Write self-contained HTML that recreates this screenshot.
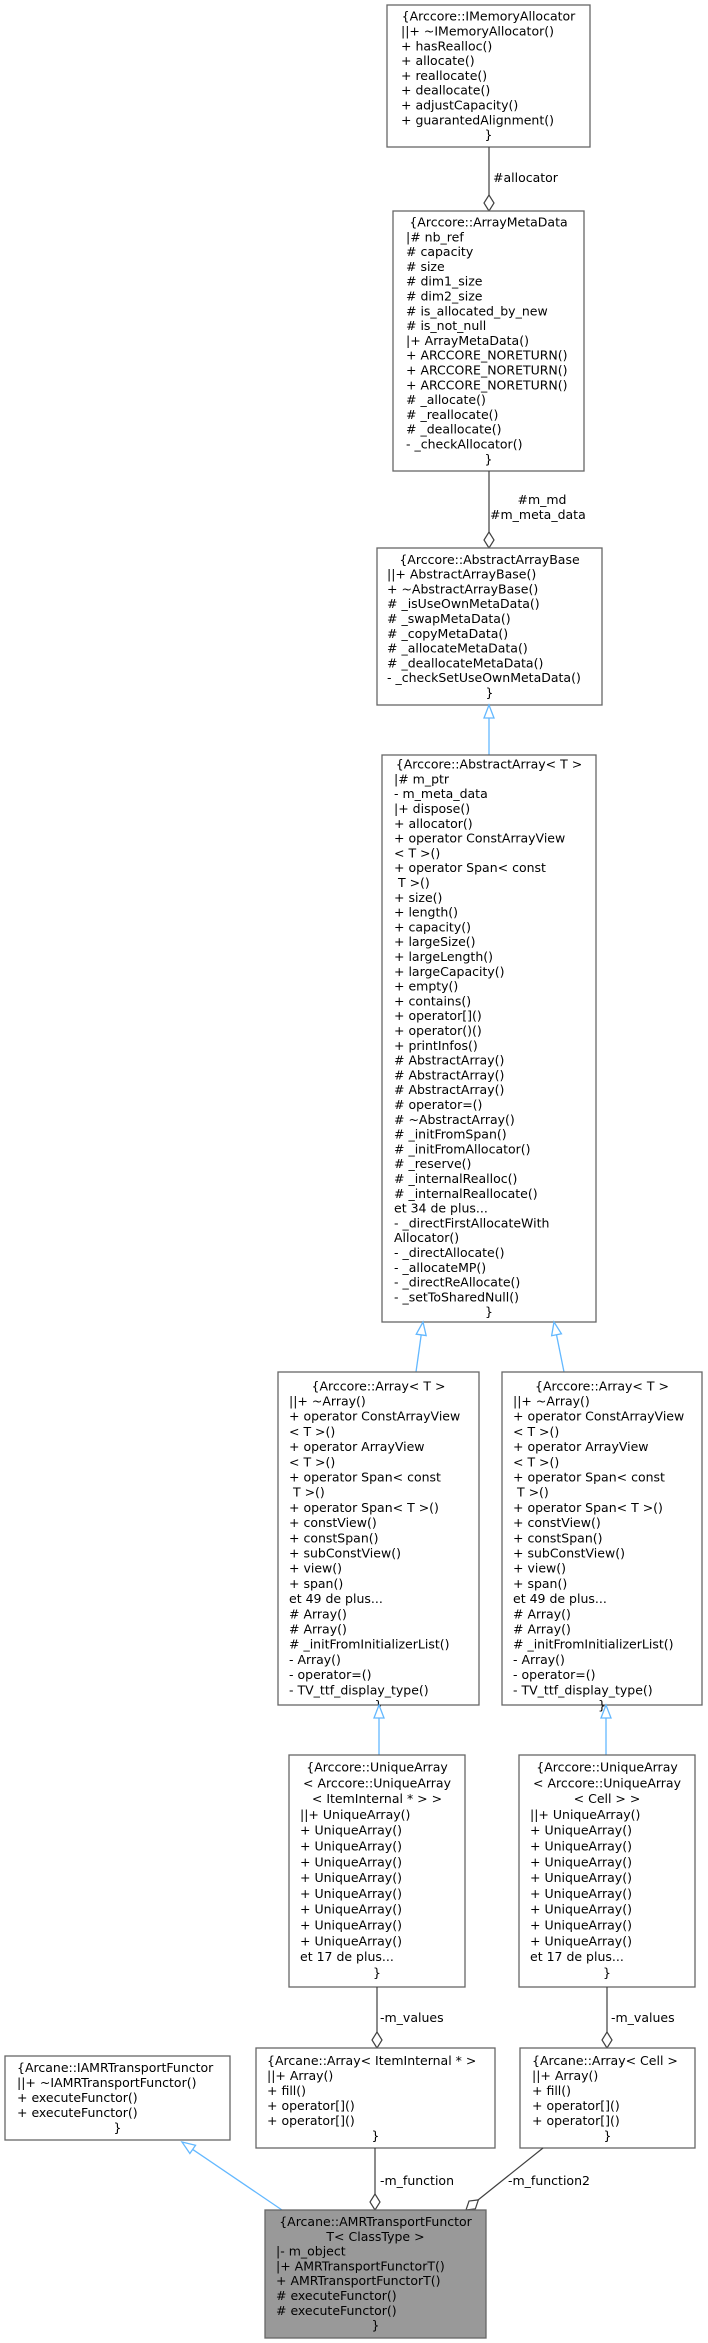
<!DOCTYPE html>
<html><head><meta charset="utf-8"><style>
html,body{margin:0;padding:0;background:#fff;}
svg{display:block;}
text{font-family:"DejaVu Sans","Liberation Sans",sans-serif;font-size:12.5px;fill:#000;}
.b{fill:#fff;stroke:#666;stroke-width:1.3;}
.e{stroke:#404040;stroke-width:1.2;fill:none;}
.d{fill:#fff;stroke:#404040;stroke-width:1.2;}
.i{stroke:#63b8ff;stroke-width:1.3;fill:none;}
.t{fill:#fff;stroke:#63b8ff;stroke-width:1.3;}
.c{text-anchor:middle;}
</style></head><body>
<svg width="708" height="2343" viewBox="0 0 708 2343" xmlns="http://www.w3.org/2000/svg">
<!-- B1 -->
<rect class="b" x="387" y="5" width="203" height="142"/>
<text y="20.7"><tspan class="c" x="488.5">{Arccore::IMemoryAllocator</tspan><tspan x="401" dy="14.8">||+ ~IMemoryAllocator()</tspan><tspan x="401" dy="14.8">+ hasRealloc()</tspan><tspan x="401" dy="14.8">+ allocate()</tspan><tspan x="401" dy="14.8">+ reallocate()</tspan><tspan x="401" dy="14.8">+ deallocate()</tspan><tspan x="401" dy="14.8">+ adjustCapacity()</tspan><tspan x="401" dy="14.8">+ guarantedAlignment()</tspan><tspan class="c" x="488.5" dy="14.8">}</tspan></text>
<line class="e" x1="489" y1="147" x2="489" y2="195"/>
<polygon class="d" points="489,211 484,203 489,195 494,203"/>
<text x="493" y="182">#allocator</text>
<!-- B2 -->
<rect class="b" x="393" y="211" width="191" height="260"/>
<text y="226.5"><tspan class="c" x="488.5">{Arccore::ArrayMetaData</tspan><tspan x="406" dy="14.8">|# nb_ref</tspan><tspan x="406" dy="14.8"># capacity</tspan><tspan x="406" dy="14.8"># size</tspan><tspan x="406" dy="14.8"># dim1_size</tspan><tspan x="406" dy="14.8"># dim2_size</tspan><tspan x="406" dy="14.8"># is_allocated_by_new</tspan><tspan x="406" dy="14.8"># is_not_null</tspan><tspan x="406" dy="14.8">|+ ArrayMetaData()</tspan><tspan x="406" dy="14.8">+ ARCCORE_NORETURN()</tspan><tspan x="406" dy="14.8">+ ARCCORE_NORETURN()</tspan><tspan x="406" dy="14.8">+ ARCCORE_NORETURN()</tspan><tspan x="406" dy="14.8"># _allocate()</tspan><tspan x="406" dy="14.8"># _reallocate()</tspan><tspan x="406" dy="14.8"># _deallocate()</tspan><tspan x="406" dy="14.8">- _checkAllocator()</tspan><tspan class="c" x="488.5" dy="14.8">}</tspan></text>
<line class="e" x1="489" y1="471" x2="489" y2="532"/>
<polygon class="d" points="489,548 484,540 489,532 494,540"/>
<text class="c" x="542" y="504">#m_md</text>
<text x="490" y="519">#m_meta_data</text>
<!-- B3 -->
<rect class="b" x="377" y="548" width="225" height="157"/>
<text y="563.8"><tspan class="c" x="489.5">{Arccore::AbstractArrayBase</tspan><tspan x="387" dy="14.8">||+ AbstractArrayBase()</tspan><tspan x="387" dy="14.8">+ ~AbstractArrayBase()</tspan><tspan x="387" dy="14.8"># _isUseOwnMetaData()</tspan><tspan x="387" dy="14.8"># _swapMetaData()</tspan><tspan x="387" dy="14.8"># _copyMetaData()</tspan><tspan x="387" dy="14.8"># _allocateMetaData()</tspan><tspan x="387" dy="14.8"># _deallocateMetaData()</tspan><tspan x="387" dy="14.8">- _checkSetUseOwnMetaData()</tspan><tspan class="c" x="489.5" dy="14.8">}</tspan></text>
<line class="i" x1="489" y1="755" x2="489" y2="718"/>
<polygon class="t" points="489,705 484,718 494,718"/>
<!-- B4 -->
<rect class="b" x="382" y="755" width="214" height="567"/>
<text y="768.6"><tspan class="c" x="489">{Arccore::AbstractArray&lt; T &gt;</tspan><tspan x="394" dy="14.8">|# m_ptr</tspan><tspan x="394" dy="14.8">- m_meta_data</tspan><tspan x="394" dy="14.8">|+ dispose()</tspan><tspan x="394" dy="14.8">+ allocator()</tspan><tspan x="394" dy="14.8">+ operator ConstArrayView</tspan><tspan x="394" dy="14.8">&lt; T &gt;()</tspan><tspan x="394" dy="14.8">+ operator Span&lt; const</tspan><tspan x="394" dy="14.8"> T &gt;()</tspan><tspan x="394" dy="14.8">+ size()</tspan><tspan x="394" dy="14.8">+ length()</tspan><tspan x="394" dy="14.8">+ capacity()</tspan><tspan x="394" dy="14.8">+ largeSize()</tspan><tspan x="394" dy="14.8">+ largeLength()</tspan><tspan x="394" dy="14.8">+ largeCapacity()</tspan><tspan x="394" dy="14.8">+ empty()</tspan><tspan x="394" dy="14.8">+ contains()</tspan><tspan x="394" dy="14.8">+ operator[]()</tspan><tspan x="394" dy="14.8">+ operator()()</tspan><tspan x="394" dy="14.8">+ printInfos()</tspan><tspan x="394" dy="14.8"># AbstractArray()</tspan><tspan x="394" dy="14.8"># AbstractArray()</tspan><tspan x="394" dy="14.8"># AbstractArray()</tspan><tspan x="394" dy="14.8"># operator=()</tspan><tspan x="394" dy="14.8"># ~AbstractArray()</tspan><tspan x="394" dy="14.8"># _initFromSpan()</tspan><tspan x="394" dy="14.8"># _initFromAllocator()</tspan><tspan x="394" dy="14.8"># _reserve()</tspan><tspan x="394" dy="14.8"># _internalRealloc()</tspan><tspan x="394" dy="14.8"># _internalReallocate()</tspan><tspan x="394" dy="14.8">et 34 de plus...</tspan><tspan x="394" dy="14.8">- _directFirstAllocateWith</tspan><tspan x="394" dy="14.8">Allocator()</tspan><tspan x="394" dy="14.8">- _directAllocate()</tspan><tspan x="394" dy="14.8">- _allocateMP()</tspan><tspan x="394" dy="14.8">- _directReAllocate()</tspan><tspan x="394" dy="14.8">- _setToSharedNull()</tspan><tspan class="c" x="489" dy="14.8">}</tspan></text>
<!-- B5 / B6 inheritance -->
<line class="i" x1="416" y1="1372" x2="421.2" y2="1334.9"/>
<polygon class="t" points="0,0 -5,13 5,13" transform="translate(423,1322) rotate(8)"/>
<line class="i" x1="564" y1="1372" x2="556.5" y2="1334.7"/>
<polygon class="t" points="0,0 -5,13 5,13" transform="translate(554,1322) rotate(-11.3)"/>
<rect class="b" x="278" y="1372" width="201" height="333"/>
<text y="1390.3"><tspan class="c" x="378.5">{Arccore::Array&lt; T &gt;</tspan><tspan x="289" dy="15.2">||+ ~Array()</tspan><tspan x="289" dy="15.2">+ operator ConstArrayView</tspan><tspan x="289" dy="15.2">&lt; T &gt;()</tspan><tspan x="289" dy="15.2">+ operator ArrayView</tspan><tspan x="289" dy="15.2">&lt; T &gt;()</tspan><tspan x="289" dy="15.2">+ operator Span&lt; const</tspan><tspan x="289" dy="15.2"> T &gt;()</tspan><tspan x="289" dy="15.2">+ operator Span&lt; T &gt;()</tspan><tspan x="289" dy="15.2">+ constView()</tspan><tspan x="289" dy="15.2">+ constSpan()</tspan><tspan x="289" dy="15.2">+ subConstView()</tspan><tspan x="289" dy="15.2">+ view()</tspan><tspan x="289" dy="15.2">+ span()</tspan><tspan x="289" dy="15.2">et 49 de plus...</tspan><tspan x="289" dy="15.2"># Array()</tspan><tspan x="289" dy="15.2"># Array()</tspan><tspan x="289" dy="15.2"># _initFromInitializerList()</tspan><tspan x="289" dy="15.2">- Array()</tspan><tspan x="289" dy="15.2">- operator=()</tspan><tspan x="289" dy="15.2">- TV_ttf_display_type()</tspan><tspan class="c" x="378.5" dy="15.2">}</tspan></text>
<rect class="b" x="502" y="1372" width="200" height="333"/>
<text y="1390.3"><tspan class="c" x="602">{Arccore::Array&lt; T &gt;</tspan><tspan x="513" dy="15.2">||+ ~Array()</tspan><tspan x="513" dy="15.2">+ operator ConstArrayView</tspan><tspan x="513" dy="15.2">&lt; T &gt;()</tspan><tspan x="513" dy="15.2">+ operator ArrayView</tspan><tspan x="513" dy="15.2">&lt; T &gt;()</tspan><tspan x="513" dy="15.2">+ operator Span&lt; const</tspan><tspan x="513" dy="15.2"> T &gt;()</tspan><tspan x="513" dy="15.2">+ operator Span&lt; T &gt;()</tspan><tspan x="513" dy="15.2">+ constView()</tspan><tspan x="513" dy="15.2">+ constSpan()</tspan><tspan x="513" dy="15.2">+ subConstView()</tspan><tspan x="513" dy="15.2">+ view()</tspan><tspan x="513" dy="15.2">+ span()</tspan><tspan x="513" dy="15.2">et 49 de plus...</tspan><tspan x="513" dy="15.2"># Array()</tspan><tspan x="513" dy="15.2"># Array()</tspan><tspan x="513" dy="15.2"># _initFromInitializerList()</tspan><tspan x="513" dy="15.2">- Array()</tspan><tspan x="513" dy="15.2">- operator=()</tspan><tspan x="513" dy="15.2">- TV_ttf_display_type()</tspan><tspan class="c" x="602" dy="15.2">}</tspan></text>
<!-- UniqueArray -->
<line class="i" x1="379" y1="1755" x2="379" y2="1718"/>
<polygon class="t" points="379,1705 374,1718 384,1718"/>
<line class="i" x1="606" y1="1755" x2="606" y2="1718"/>
<polygon class="t" points="606,1705 601,1718 611,1718"/>
<rect class="b" x="289" y="1755" width="176" height="232"/>
<text y="1771.5"><tspan class="c" x="377">{Arccore::UniqueArray</tspan><tspan class="c" x="377" dy="15.8">&lt; Arccore::UniqueArray</tspan><tspan class="c" x="377" dy="15.8">&lt; ItemInternal * &gt; &gt;</tspan><tspan x="300" dy="15.8">||+ UniqueArray()</tspan><tspan x="300" dy="15.8">+ UniqueArray()</tspan><tspan x="300" dy="15.8">+ UniqueArray()</tspan><tspan x="300" dy="15.8">+ UniqueArray()</tspan><tspan x="300" dy="15.8">+ UniqueArray()</tspan><tspan x="300" dy="15.8">+ UniqueArray()</tspan><tspan x="300" dy="15.8">+ UniqueArray()</tspan><tspan x="300" dy="15.8">+ UniqueArray()</tspan><tspan x="300" dy="15.8">+ UniqueArray()</tspan><tspan x="300" dy="15.8">et 17 de plus...</tspan><tspan class="c" x="377" dy="15.8">}</tspan></text>
<rect class="b" x="519" y="1755" width="176" height="232"/>
<text y="1771.5"><tspan class="c" x="607">{Arccore::UniqueArray</tspan><tspan class="c" x="607" dy="15.8">&lt; Arccore::UniqueArray</tspan><tspan class="c" x="607" dy="15.8">&lt; Cell &gt; &gt;</tspan><tspan x="530" dy="15.8">||+ UniqueArray()</tspan><tspan x="530" dy="15.8">+ UniqueArray()</tspan><tspan x="530" dy="15.8">+ UniqueArray()</tspan><tspan x="530" dy="15.8">+ UniqueArray()</tspan><tspan x="530" dy="15.8">+ UniqueArray()</tspan><tspan x="530" dy="15.8">+ UniqueArray()</tspan><tspan x="530" dy="15.8">+ UniqueArray()</tspan><tspan x="530" dy="15.8">+ UniqueArray()</tspan><tspan x="530" dy="15.8">+ UniqueArray()</tspan><tspan x="530" dy="15.8">et 17 de plus...</tspan><tspan class="c" x="607" dy="15.8">}</tspan></text>
<!-- m_values -->
<line class="e" x1="377" y1="1987" x2="377" y2="2032"/>
<polygon class="d" points="377,2048 372,2040 377,2032 382,2040"/>
<text x="380" y="2022">-m_values</text>
<line class="e" x1="607" y1="1987" x2="607" y2="2032"/>
<polygon class="d" points="607,2048 602,2040 607,2032 612,2040"/>
<text x="611" y="2022">-m_values</text>
<!-- Arrays -->
<rect class="b" x="256" y="2048" width="239" height="100"/>
<text y="2065"><tspan x="267">{Arcane::Array&lt; ItemInternal * &gt;</tspan><tspan x="267" dy="15">||+ Array()</tspan><tspan x="267" dy="15">+ fill()</tspan><tspan x="267" dy="15">+ operator[]()</tspan><tspan x="267" dy="15">+ operator[]()</tspan><tspan class="c" x="375.5" dy="15">}</tspan></text>
<rect class="b" x="520" y="2048" width="175" height="100"/>
<text y="2065"><tspan x="532">{Arcane::Array&lt; Cell &gt;</tspan><tspan x="532" dy="15">||+ Array()</tspan><tspan x="532" dy="15">+ fill()</tspan><tspan x="532" dy="15">+ operator[]()</tspan><tspan x="532" dy="15">+ operator[]()</tspan><tspan class="c" x="607.5" dy="15">}</tspan></text>
<rect class="b" x="5" y="2056" width="225" height="84"/>
<text y="2072"><tspan x="17">{Arcane::IAMRTransportFunctor</tspan><tspan x="17" dy="15">||+ ~IAMRTransportFunctor()</tspan><tspan x="17" dy="15">+ executeFunctor()</tspan><tspan x="17" dy="15">+ executeFunctor()</tspan><tspan class="c" x="117.5" dy="15">}</tspan></text>
<!-- bottom connectors -->
<line class="i" x1="282" y1="2210" x2="192.7" y2="2149.4"/>
<polygon class="t" points="0,0 -5,13 5,13" transform="translate(182,2142) rotate(-55.4)"/>
<line class="e" x1="375" y1="2148" x2="375" y2="2194"/>
<polygon class="d" points="375,2210 370,2202 375,2194 380,2202"/>
<text x="380" y="2185">-m_function</text>
<line class="e" x1="543" y1="2148" x2="478" y2="2200"/>
<polygon class="d" points="0,0 -5,-8 0,-16 5,-8" transform="translate(466,2210) rotate(50.7)"/>
<text x="508" y="2185">-m_function2</text>
<!-- bottom -->
<rect x="265" y="2210" width="221" height="128" fill="#999" stroke="#666" stroke-width="1.3"/>
<text y="2226"><tspan class="c" x="375.5">{Arcane::AMRTransportFunctor</tspan><tspan class="c" x="375.5" dy="14.8">T&lt; ClassType &gt;</tspan><tspan x="276" dy="14.8">|- m_object</tspan><tspan x="276" dy="14.8">|+ AMRTransportFunctorT()</tspan><tspan x="276" dy="14.8">+ AMRTransportFunctorT()</tspan><tspan x="276" dy="14.8"># executeFunctor()</tspan><tspan x="276" dy="14.8"># executeFunctor()</tspan><tspan class="c" x="375.5" dy="14.8">}</tspan></text>
</svg>
</body></html>
